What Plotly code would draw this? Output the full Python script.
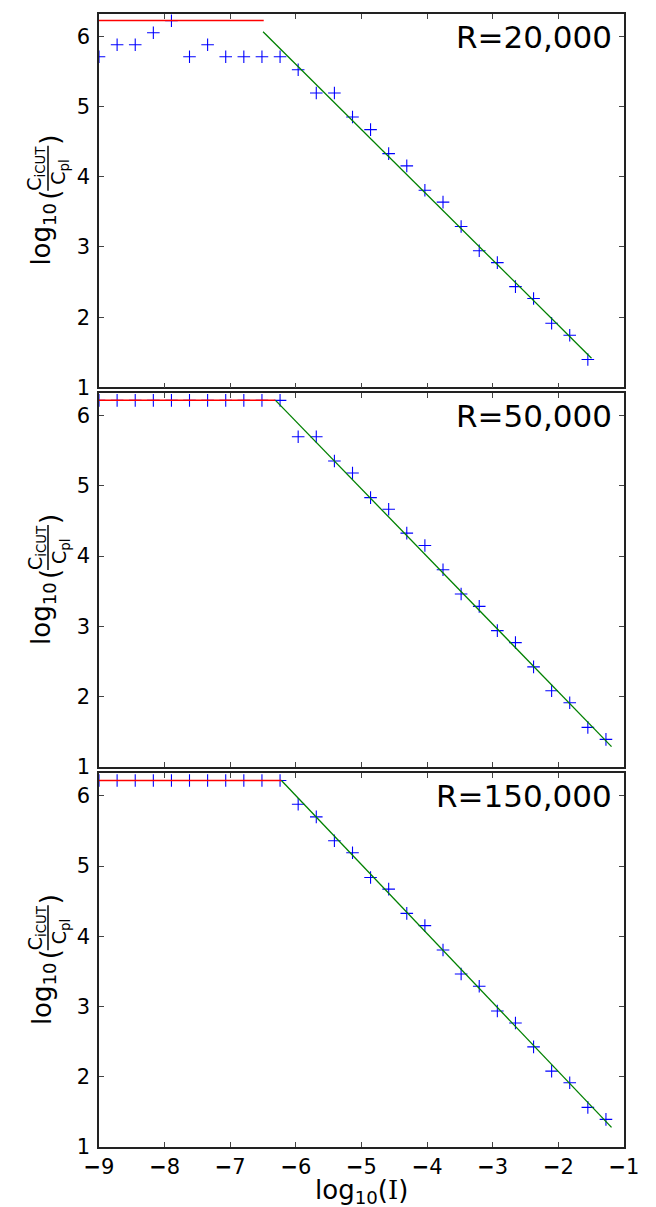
import plotly.graph_objects as go

# ---------------- data ----------------
log_I = [-9.000, -8.724, -8.448, -8.172, -7.896, -7.621, -7.345, -7.069, -6.793, -6.517,
         -6.241, -5.965, -5.689, -5.413, -5.137, -4.862, -4.586, -4.310, -4.034, -3.758,
         -3.482, -3.206, -2.930, -2.654, -2.378, -2.103, -1.827, -1.551, -1.275]

ratio_R20 = [5.711, 5.882, 5.882, 6.053, 6.223, 5.711, 5.882, 5.711, 5.711, 5.711,
             5.711, 5.526, 5.195, 5.195, 4.853, 4.673, 4.331, 4.156, 3.809, 3.639,
             3.293, 2.947, 2.777, 2.435, 2.265, 1.913, 1.742, 1.397]
ratio_R50 = [6.219, 6.219, 6.219, 6.219, 6.219, 6.219, 6.219, 6.219, 6.219, 6.219,
             6.219, 5.701, 5.701, 5.356, 5.185, 4.834, 4.669, 4.328, 4.152, 3.806,
             3.461, 3.284, 2.939, 2.768, 2.422, 2.081, 1.911, 1.560, 1.389]
ratio_R150 = [6.218, 6.218, 6.218, 6.218, 6.218, 6.218, 6.218, 6.218, 6.218, 6.218,
              6.218, 5.881, 5.701, 5.360, 5.190, 4.838, 4.672, 4.326, 4.152, 3.805,
              3.463, 3.288, 2.937, 2.766, 2.425, 2.080, 1.914, 1.564, 1.393]

plateau_x = [[-9.0, -6.49], [-9.0, -6.31], [-9.0, -6.22]]
plateau_y = [[6.228, 6.228], [6.220, 6.220], [6.218, 6.218]]
fit_x = [[-6.50, -1.495], [-6.31, -1.19], [-6.22, -1.19]]
fit_y = [[6.067, 1.415], [6.220, 1.285], [6.218, 1.279]]

panel_labels = ["R=20,000", "R=50,000", "R=150,000"]
series = [ratio_R20, ratio_R50, ratio_R150]

x_ticks = [-9, -8, -7, -6, -5, -4, -3, -2, -1]
x_ticktext = ["<b>\u2212</b>9", "<b>\u2212</b>8", "<b>\u2212</b>7", "<b>\u2212</b>6",
              "<b>\u2212</b>5", "<b>\u2212</b>4", "<b>\u2212</b>3", "<b>\u2212</b>2",
              "<b>\u2212</b>1"]
y_ticks = [1, 2, 3, 4, 5, 6]
x_range = [-9, -1]
y_range = [1, 6.32]

# ---------------- layout geometry ----------------
W, H = 656, 1207
ML, MR, MT, MB = 91, 40, 4, 68
PW = W - ML - MR
PH = H - MT - MB
panel_px = [(4, 378), (384, 758), (764.7, 1139)]

def py2paper(py):
    return (H - MB - py) / PH

def px2paper(px):
    return (px - ML) / PW

FONT = "DejaVu Sans"

fig = go.Figure()
layout = dict(
    width=W, height=H,
    margin=dict(l=ML, r=MR, t=MT, b=MB),
    paper_bgcolor="white", plot_bgcolor="white",
    showlegend=False,
    font=dict(family=FONT, color="black", size=20),
)

annotations = []
shapes = []

for i in range(3):
    n = "" if i == 0 else str(i + 1)
    xa, ya = "x" + n, "y" + n
    top, bot = panel_px[i]
    dom = [py2paper(bot), py2paper(top)]
    last = (i == 2)
    layout["xaxis" + n] = dict(
        domain=[0, 1], anchor=ya, range=x_range, tickvals=x_ticks, ticktext=x_ticktext,
        showticklabels=last, ticks="inside", ticklen=5, tickwidth=1, tickcolor="#444",
        showline=True, linecolor="#222", linewidth=1.5, mirror="ticks",
        showgrid=False, zeroline=False,
        tickfont=dict(family=FONT, size=21, color="black"),
    )
    layout["yaxis" + n] = dict(
        domain=dom, anchor=xa, range=y_range, tickvals=y_ticks,
        ticks="inside", ticklen=5, tickwidth=1, tickcolor="#444",
        showline=True, linecolor="#222", linewidth=1.5, mirror="ticks",
        showgrid=False, zeroline=False, ticklabelstandoff=3,
        tickfont=dict(family=FONT, size=21, color="black"),
    )

    xs = log_I[:len(series[i])]
    fig.add_trace(go.Scatter(
        x=xs, y=series[i], mode="markers", xaxis=xa, yaxis=ya,
        marker=dict(symbol="cross-thin", size=9, color="blue",
                    line=dict(color="blue", width=1.1)),
    ))
    fig.add_trace(go.Scatter(
        x=plateau_x[i], y=plateau_y[i], mode="lines", xaxis=xa, yaxis=ya,
        line=dict(color="red", width=1.5),
    ))
    fig.add_trace(go.Scatter(
        x=fit_x[i], y=fit_y[i], mode="lines", xaxis=xa, yaxis=ya,
        line=dict(color="green", width=1.3),
    ))

    # panel label
    annotations.append(dict(
        text=panel_labels[i], xref=xa + " domain", yref=ya + " domain",
        x=1, y=1, xanchor="right", yanchor="top", xshift=-10, yshift=-3,
        showarrow=False, font=dict(family=FONT, size=31, color="black"),
    ))

    # y-axis label: log10( C_iCUT / C_pl ) built from rotated pieces
    cy = (top + bot) / 2
    pieces = [
        ("log<sub>10</sub>", 35, 33, 26),
        ("(", 42, -6, 26),
        ("C<sub>iCUT</sub>", 28, -32, 19),
        ("C<sub>pl</sub>", 52, -28, 19),
        (")", 42, -61, 26),
    ]
    for txt, px, dy, fs in pieces:
        annotations.append(dict(
            text=txt, xref="paper", yref="paper",
            x=px2paper(px), y=py2paper(cy + dy), xanchor="center", yanchor="middle",
            textangle=-90, showarrow=False,
            font=dict(family=FONT, size=fs, color="black"),
        ))
    shapes.append(dict(
        type="line", xref="paper", yref="paper",
        x0=px2paper(40), x1=px2paper(40),
        y0=py2paper(cy - 55), y1=py2paper(cy - 10),
        line=dict(color="black", width=1.5),
    ))

# x-axis title
annotations.append(dict(
    text="log<sub>10</sub>(<span style=\"font-family:'DejaVu Serif'\">I</span>)",
    xref="paper", yref="paper",
    x=0.5, y=py2paper(1184), xanchor="center", yanchor="middle",
    showarrow=False, font=dict(family=FONT, size=26, color="black"),
))

layout["annotations"] = annotations
layout["shapes"] = shapes
fig.update_layout(**layout)
fig.write_html("out.html")
